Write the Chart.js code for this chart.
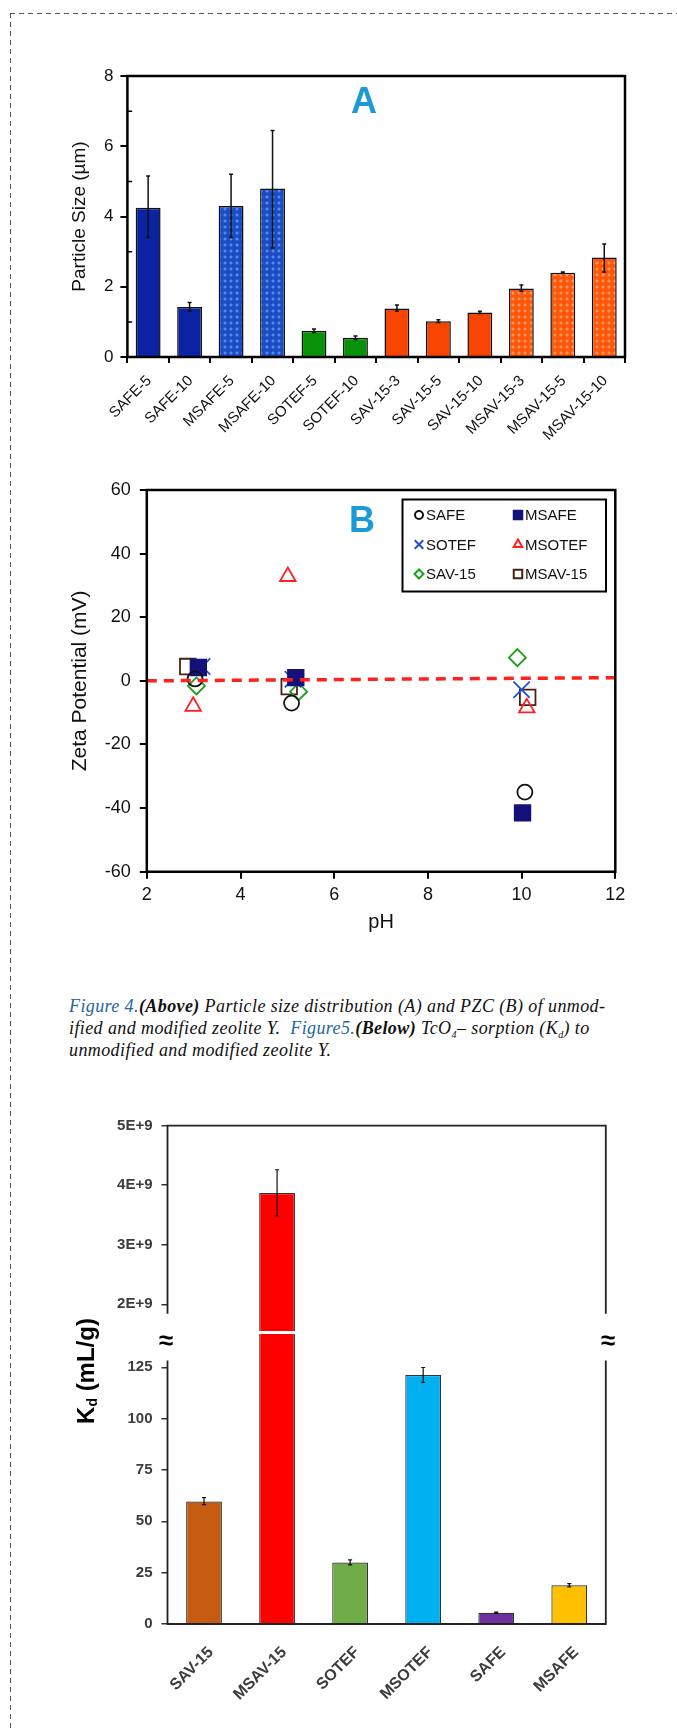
<!DOCTYPE html>
<html>
<head>
<meta charset="utf-8">
<script src="https://cdn.jsdelivr.net/npm/chart.js@4.4.1/dist/chart.umd.min.js"></script>
<style>
  html, body { margin: 0; padding: 0; background: #fff; }
  body { width: 677px; height: 1730px; position: relative; overflow: hidden; font-family: "Liberation Sans", Arial, sans-serif; }
  .dash-top { position: absolute; left: 10px; top: 13px; width: 667px; height: 1px;
    background: repeating-linear-gradient(to right, #555 0 5px, transparent 5px 9px); }
  .dash-left { position: absolute; left: 10px; top: 13px; width: 1px; height: 1717px;
    background: repeating-linear-gradient(to bottom, #555 0 5px, transparent 5px 9px); }
  canvas { position: absolute; left: 0; display: block; }
  .caption { position: absolute; left: 69px; top: 995px; font-family: "Liberation Serif", "Times New Roman", serif;
    font-style: italic; font-size: 18px; line-height: 22px; color: #111; white-space: nowrap; letter-spacing: 0.4px; }
  .caption .fig { color: #26649f; }
  .caption sub { font-size: 10px; line-height: 0; vertical-align: -4px; }
  .kd { position: absolute; left: 86px; top: 1371px; transform: translate(-50%, -50%) rotate(-90deg);
    font-weight: bold; font-size: 24px; white-space: nowrap; color: #000; }
  .kd sub { font-size: 14px; line-height: 0; vertical-align: -3px; }
  .brk { position: absolute; font-weight: bold; font-size: 26px; line-height: 26px; transform: translate(-50%, -50%); color: #000; }
</style>
</head>
<body>
<div class="dash-top"></div>
<div class="dash-left"></div>

<canvas id="chartA" width="677" height="420" style="top:50px"></canvas>
<canvas id="chartB" width="677" height="480" style="top:460px"></canvas>

<div class="caption">
  <div><span class="fig">Figure 4.</span><b>(Above)</b> Particle size distribution (A) and PZC (B) of unmod-</div>
  <div>ified and modified zeolite Y. &nbsp;<span class="fig">Figure5.</span><b>(Below)</b> TcO<sub>4</sub>– sorption (K<sub>d</sub>) to</div>
  <div>unmodified and modified zeolite Y.</div>
</div>

<canvas id="chartC1" width="677" height="231" style="top:1100px"></canvas>
<canvas id="chartC2" width="677" height="400" style="top:1330px"></canvas>
<div class="kd">K<sub>d</sub> (mL/g)</div>
<div class="brk" style="left:166px; top:1340px">≈</div>
<div class="brk" style="left:608px; top:1340px">≈</div>

<script>
// ---- Panel A: particle size ----
const sizeLabels = ['SAFE-5', 'SAFE-10', 'MSAFE-5', 'MSAFE-10', 'SOTEF-5', 'SOTEF-10',
  'SAV-15-3', 'SAV-15-5', 'SAV-15-10', 'MSAV-15-3', 'MSAV-15-5', 'MSAV-15-10'];
const sizeMean = [4.25, 1.42, 4.3, 4.8, 0.75, 0.55, 1.38, 1.02, 1.27, 1.95, 2.4, 2.83];
const sizeLow = [3.4, 1.3, 3.4, 3.1, 0.7, 0.5, 1.3, 0.98, 1.24, 1.87, 2.38, 2.42];
const sizeHigh = [5.15, 1.55, 5.2, 6.45, 0.8, 0.6, 1.48, 1.06, 1.3, 2.05, 2.42, 3.22];
const sizeGroup = ['SAFE', 'SAFE', 'MSAFE', 'MSAFE', 'SOTEF', 'SOTEF', 'SAV', 'SAV', 'SAV', 'MSAV', 'MSAV', 'MSAV'];
const sizeTicks = [0, 2, 4, 6, 8];
const sizeMinorTicks = [1, 3, 5, 7];

// ---- Panel B: zeta potential vs pH ----
const phTicks = [2, 4, 6, 8, 10, 12];
const zetaTicks = [-60, -40, -20, 0, 20, 40, 60];
const phSAFE = [3.03, 5.09, 10.07];   const zSAFE = [0.6, -7, -35];
const phMSAFE = [3.1, 5.18, 10.02];   const zMSAFE = [4.2, 1, -41.5];
const phSOTEF = [3.18, 5.12, 10.0];   const zSOTEF = [4.5, 0.5, -2.8];
const phMSOTEF = [2.99, 5.01, 10.11]; const zMSOTEF = [-8, 32.8, -8.5];
const phSAV15 = [3.06, 5.24, 9.91];   const zSAV15 = [-1.6, -3.4, 7.3];
const phMSAV15 = [2.875, 5.04, 10.13]; const zMSAV15 = [4.5, -1.8, -5.2];
const pzcX = [2, 12];
const pzcY = [0, 1];

// ---- Figure 5: Kd ----
const kdLabels = ['SAV-15', 'MSAV-15', 'SOTEF', 'MSOTEF', 'SAFE', 'MSAFE'];
const kdMean = [59.6, 3.87e9, 29.9, 121.2, 5.5, 18.9];
const kdLow = [58.1, 3.48e9, 28.8, 117.6, 5.2, 18.1];
const kdHigh = [61.5, 4.26e9, 31.2, 124.9, 5.8, 19.7];
const kdLowerTicks = [0, 25, 50, 75, 100, 125];
const kdUpperTicks = [2e9, 3e9, 4e9, 5e9];

Chart.defaults.font.family = '"Liberation Sans", Arial, sans-serif';
Chart.defaults.color = '#000';

// checkered fill like the original's patterned bars
function checker(base, light) {
  const c = document.createElement('canvas');
  c.width = c.height = 6;
  const g = c.getContext('2d');
  g.fillStyle = base; g.fillRect(0, 0, 6, 6);
  g.fillStyle = light;
  g.globalAlpha = 0.35; g.fillRect(1, 2, 4, 2); g.fillRect(2, 1, 2, 4);
  g.globalAlpha = 0.7; g.fillRect(2, 2, 2, 2);
  return g.createPattern(c, 'repeat');
}

const fills = {
  SAFE: '#0b22a2',
  MSAFE: checker('#1b4cc4', '#5a96f2'),
  SOTEF: '#07920a',
  SAV: '#f74400',
  MSAV: checker('#ff560a', '#ffa066')
};

// keep the y scale from reserving room for half tick labels
function fixWidth(w) {
  return s => { s.width = w; s.paddingTop = 0; s.paddingBottom = 0; };
}

// plugins
const errorBars = {
  id: 'errorBars',
  afterDatasetsDraw(chart, args, o) {
    if (!o.low) return;
    const { ctx, chartArea: a } = chart;
    const y = chart.scales.y;
    const meta = chart.getDatasetMeta(0);
    ctx.save();
    ctx.beginPath(); ctx.rect(a.left, a.top, a.right - a.left, a.bottom - a.top); ctx.clip();
    ctx.strokeStyle = o.color || '#000';
    ctx.lineWidth = o.width || 1;
    meta.data.forEach((bar, i) => {
      const lo = o.low[i], hi = o.high[i];
      if (lo > y.max || hi < y.min) return;
      const y1 = y.getPixelForValue(Math.max(lo, y.min - (y.max - y.min)));
      const y2 = y.getPixelForValue(Math.min(hi, y.max + (y.max - y.min)));
      const c = o.cap || 2;
      ctx.beginPath();
      ctx.moveTo(bar.x, y1); ctx.lineTo(bar.x, y2);
      ctx.moveTo(bar.x - c, y1); ctx.lineTo(bar.x + c, y1);
      ctx.moveTo(bar.x - c, y2); ctx.lineTo(bar.x + c, y2);
      ctx.stroke();
    });
    ctx.restore();
  }
};

const frame = {
  id: 'frame',
  afterDraw(chart, args, o) {
    if (!o.width) return;
    const { ctx, chartArea: a } = chart;
    const y = chart.scales.y;
    const t = o.from != null ? y.getPixelForValue(o.from) : a.top;
    const b = o.to != null ? y.getPixelForValue(o.to) : a.bottom;
    ctx.save();
    ctx.strokeStyle = o.color || '#000';
    ctx.lineWidth = o.width;
    ctx.lineCap = 'square';
    ctx.beginPath();
    ctx.moveTo(a.left, t); ctx.lineTo(a.left, b);
    ctx.moveTo(a.right, t); ctx.lineTo(a.right, b);
    if (o.top) { ctx.moveTo(a.left, t); ctx.lineTo(a.right, t); }
    if (o.bottom) { ctx.moveTo(a.left, b); ctx.lineTo(a.right, b); }
    ctx.stroke();
    // small inside ticks
    if (o.minor) {
      ctx.lineWidth = 1.5;
      ctx.beginPath();
      o.minor.forEach(v => {
        const p = y.getPixelForValue(v);
        ctx.moveTo(a.left, p); ctx.lineTo(a.left + 4, p);
      });
      ctx.stroke();
    }
    ctx.restore();
  }
};

const panelLetter = {
  id: 'panelLetter',
  afterDraw(chart, args, o) {
    if (!o.text) return;
    const ctx = chart.ctx;
    ctx.save();
    ctx.font = 'bold 36px "Liberation Sans", Arial, sans-serif';
    ctx.fillStyle = '#1b9ad6';
    ctx.textAlign = 'center';
    ctx.fillText(o.text, o.x, o.y);
    ctx.restore();
  }
};

// legend box drawn inside the plot, 2 columns x 3 rows
const boxLegend = {
  id: 'boxLegend',
  afterDraw(chart, args, o) {
    if (!o.box) return;
    const ctx = chart.ctx;
    const [x0, y0, x1, y1] = o.box;
    ctx.save();
    ctx.fillStyle = '#fff';
    ctx.fillRect(x0, y0, x1 - x0, y1 - y0);
    ctx.strokeStyle = '#000';
    ctx.lineWidth = 2;
    ctx.strokeRect(x0, y0, x1 - x0, y1 - y0);
    ctx.font = '15px "Liberation Sans", Arial, sans-serif';
    ctx.textBaseline = 'middle';
    chart.data.datasets.forEach((ds, i) => {
      if (ds.type === 'line') return;
      const col = i % 2, row = Math.floor(i / 2);
      const mx = o.cols[col], my = o.rows[row];
      ctx.fillStyle = ds.backgroundColor;
      ctx.strokeStyle = ds.borderColor;
      ctx.lineWidth = 2;
      Chart.helpers.drawPoint(ctx, { pointStyle: ds.pointStyle, radius: ds.legendRadius, rotation: 0, borderWidth: 2 }, mx, my);
      ctx.fillStyle = '#111';
      ctx.fillText(ds.label, mx + 7, my + 1);
    });
    ctx.restore();
  }
};

// ---------- Chart A ----------
new Chart(document.getElementById('chartA'), {
  type: 'bar',
  data: {
    labels: sizeLabels,
    datasets: [{
      data: sizeMean,
      backgroundColor: sizeGroup.map(g => fills[g]),
      borderColor: '#111',
      borderWidth: 1.5,
      barPercentage: 0.6,
      categoryPercentage: 1
    }]
  },
  plugins: [errorBars, frame, panelLetter],
  options: {
    responsive: false,
    animation: false,
    layout: { padding: { top: 26, right: 52, left: 0, bottom: 0 } },
    plugins: {
      legend: { display: false },
      tooltip: { enabled: false },
      errorBars: { low: sizeLow, high: sizeHigh, color: '#111', width: 1.5, cap: 2 },
      frame: { width: 2.5, top: true, bottom: true, minor: sizeMinorTicks },
      panelLetter: { text: 'A', x: 364, y: 63 }
    },
    scales: {
      x: {
        grid: { display: true, drawOnChartArea: false, offset: true, color: '#000', lineWidth: 2, tickLength: 6 },
        border: { display: false },
        ticks: { autoSkip: false, minRotation: 45, maxRotation: 45, color: '#111', font: { size: 15 }, padding: 9, labelOffset: 1 },
        afterFit(s) { s.height = 113; }
      },
      y: {
        min: 0, max: 8,
        afterBuildTicks(s) { s.ticks = sizeTicks.map(v => ({ value: v })); },
        grid: { display: true, drawOnChartArea: false, color: '#000', lineWidth: 2, tickLength: 7 },
        border: { display: false },
        ticks: { color: '#111', font: { size: 17 }, padding: 7 },
        title: { display: true, text: 'Particle Size (µm)', color: '#111', font: { size: 19 }, padding: { top: 68, bottom: 0 } },
        afterFit: fixWidth(127.4)
      }
    }
  }
});

// ---------- Chart B ----------
const pts = (xs, ys) => xs.map((x, i) => ({ x, y: ys[i] }));
const scatterSet = (label, xs, ys, style, radius, legendRadius, border, fill) => ({
  type: 'scatter', label, data: pts(xs, ys),
  pointStyle: style, pointRadius: radius, legendRadius,
  borderColor: border, backgroundColor: fill,
  pointBorderWidth: 1.8, borderWidth: 1.8
});

new Chart(document.getElementById('chartB'), {
  type: 'scatter',
  data: {
    datasets: [
      scatterSet('SAFE', phSAFE, zSAFE, 'circle', 7.5, 4, '#111', 'rgba(0,0,0,0)'),
      scatterSet('MSAFE', phMSAFE, zMSAFE, 'rect', 11, 6, '#15117a', '#15117a'),
      scatterSet('SOTEF', phSOTEF, zSOTEF, 'crossRot', 11.5, 6, '#1f4fd0', 'rgba(0,0,0,0)'),
      scatterSet('MSOTEF', phMSOTEF, zMSOTEF, 'triangle', 9, 5, '#ff2020', 'rgba(0,0,0,0)'),
      scatterSet('SAV-15', phSAV15, zSAV15, 'rectRot', 8.5, 4.5, '#1aa01a', 'rgba(0,0,0,0)'),
      scatterSet('MSAV-15', phMSAV15, zMSAV15, 'rect', 11, 6, '#4a2010', 'rgba(0,0,0,0)'),
      {
        type: 'line', label: 'PZC', data: pts(pzcX, pzcY),
        borderColor: '#ff2020', borderWidth: 3.5, borderDash: [10, 7],
        pointRadius: 0, fill: false, order: -1
      }
    ]
  },
  plugins: [frame, panelLetter, boxLegend],
  options: {
    responsive: false,
    animation: false,
    layout: { padding: { top: 30, right: 61.7, left: 0, bottom: 0 } },
    plugins: {
      legend: { display: false },
      tooltip: { enabled: false },
      frame: { width: 2.5, top: true, bottom: true },
      panelLetter: { text: 'B', x: 362, y: 72 },
      boxLegend: { box: [402.5, 39.5, 606, 131.5], cols: [419, 518], rows: [55, 84.5, 114] }
    },
    scales: {
      x: {
        type: 'linear', min: 2, max: 12,
        afterBuildTicks(s) { s.ticks = phTicks.map(v => ({ value: v })); },
        grid: { display: true, drawOnChartArea: false, color: '#000', lineWidth: 2, tickLength: 7 },
        border: { display: false },
        ticks: { color: '#111', font: { size: 18 }, padding: 6 },
        title: { display: true, text: 'pH', color: '#111', font: { size: 20 }, padding: { top: 0, bottom: 6 } },
        afterFit(s) { s.height = 68.3; }
      },
      y: {
        min: -60, max: 60,
        afterBuildTicks(s) { s.ticks = zetaTicks.map(v => ({ value: v })); },
        grid: { display: true, drawOnChartArea: false, color: '#000', lineWidth: 2, tickLength: 7 },
        border: { display: false },
        ticks: { color: '#111', font: { size: 18 }, padding: 9 },
        title: { display: true, text: 'Zeta Potential (mV)', color: '#111', font: { size: 21 }, padding: { top: 68, bottom: 0 } },
        afterFit: fixWidth(146.8)
      }
    }
  }
});

// ---------- Figure 5 (broken axis: two stacked charts) ----------
const kdColors = ['#c55a11', '#ff0000', '#70ad47', '#00b0f0', '#7030a0', '#ffc000'];
const upperMin = 1.551e9, upperMax = 5e9, upperBreak = 1.854e9;
const lowerMax = 141.2, lowerBreak = 127.8;
const kdTickFont = { size: 15, weight: 'bold' };

const kdDataset = values => ({
  data: values,
  backgroundColor: kdColors,
  borderColor: '#333',
  borderWidth: 1.2,
  barPercentage: 0.49,
  categoryPercentage: 1,
  clip: 0
});

new Chart(document.getElementById('chartC1'), {
  type: 'bar',
  data: { labels: kdLabels, datasets: [kdDataset(kdMean)] },
  plugins: [errorBars, frame],
  options: {
    responsive: false,
    animation: false,
    layout: { padding: { top: 25.7, right: 71.2, left: 0, bottom: 0 } },
    plugins: {
      legend: { display: false },
      tooltip: { enabled: false },
      errorBars: { low: kdLow, high: kdHigh, color: '#111', width: 1.2, cap: 2 },
      frame: { width: 1.8, color: '#222', top: true, from: upperMax, to: upperBreak }
    },
    scales: {
      x: { display: false },
      y: {
        min: upperMin, max: upperMax,
        afterBuildTicks(s) { s.ticks = kdUpperTicks.map(v => ({ value: v })); },
        grid: { display: true, drawOnChartArea: false, color: '#333', lineWidth: 1.5, tickLength: 6 },
        border: { display: false },
        ticks: { color: '#3c3c3c', font: kdTickFont, padding: 9, callback: v => (v / 1e9) + 'E+9' },
        afterFit: fixWidth(167.5)
      }
    }
  }
});

new Chart(document.getElementById('chartC2'), {
  type: 'bar',
  data: { labels: kdLabels, datasets: [kdDataset(kdMean.map(v => Math.min(v, lowerMax * 1.1)))] },
  plugins: [errorBars, frame],
  options: {
    responsive: false,
    animation: false,
    layout: { padding: { top: 4, right: 71.2, left: 0, bottom: 0 } },
    plugins: {
      legend: { display: false },
      tooltip: { enabled: false },
      errorBars: { low: kdLow, high: kdHigh, color: '#111', width: 1.2, cap: 2 },
      frame: { width: 1.8, color: '#222', bottom: true, from: lowerBreak, to: 0 }
    },
    scales: {
      x: {
        grid: { display: false },
        border: { display: false },
        ticks: { autoSkip: false, minRotation: 45, maxRotation: 45, color: '#3c3c3c', font: { size: 16, weight: 'bold' }, padding: 11, labelOffset: 7 },
        afterFit(s) { s.height = 106; }
      },
      y: {
        min: 0, max: lowerMax,
        afterBuildTicks(s) { s.ticks = kdLowerTicks.map(v => ({ value: v })); },
        grid: { display: true, drawOnChartArea: false, color: '#333', lineWidth: 1.5, tickLength: 6 },
        border: { display: false },
        ticks: { color: '#3c3c3c', font: kdTickFont, padding: 9 },
        afterFit: fixWidth(167.5)
      }
    }
  }
});
</script>
</body>
</html>
